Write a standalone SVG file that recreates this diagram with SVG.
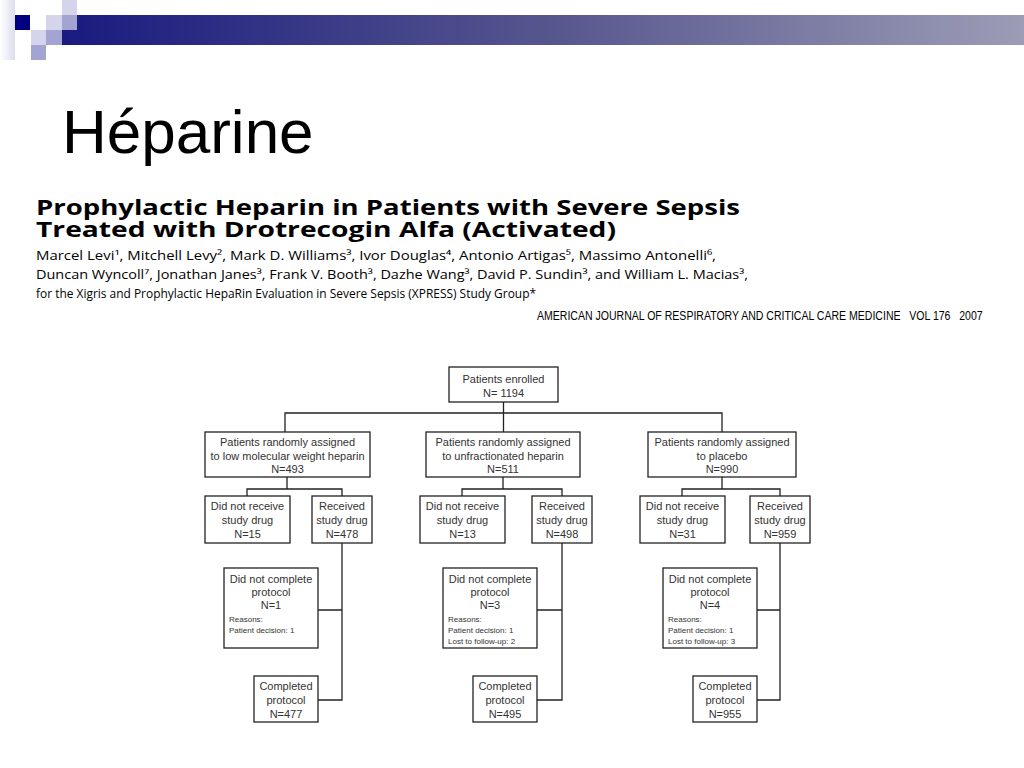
<svg xmlns="http://www.w3.org/2000/svg" width="1024" height="768" viewBox="0 0 1024 768">
<defs>
<linearGradient id="bar" x1="0" y1="0" x2="1" y2="0">
<stop offset="0" stop-color="#1a1a80"/>
<stop offset="0.5" stop-color="#55558e"/>
<stop offset="1" stop-color="#9c9cb6"/>
</linearGradient>
<linearGradient id="strip" x1="0" y1="0" x2="1" y2="0">
<stop offset="0" stop-color="#ffffff"/>
<stop offset="1" stop-color="#dcdcee"/>
</linearGradient>
<style>
.box{fill:#fff;stroke:#222;stroke-width:1.3}
.con{fill:none;stroke:#222;stroke-width:1.3}
.t{font-family:"Liberation Sans",Arial,sans-serif;font-size:11px;fill:#333;text-anchor:middle}
.s{font-family:"Liberation Sans",Arial,sans-serif;font-size:8px;fill:#333}
.pt{font-family:"Open Sans","DejaVu Sans",sans-serif;font-weight:700;font-size:21px;fill:#000}
.au{font-family:"Open Sans","DejaVu Sans",sans-serif;font-size:12px;fill:#000}
</style>
</defs>
<rect width="1024" height="768" fill="#fff"/>
<g id="header">
<rect x="0" y="0" width="15" height="60" fill="url(#strip)"/>
<rect x="62" y="15" width="962" height="30" fill="url(#bar)"/>
<rect x="15" y="15" width="15" height="15" fill="#000080"/>
<rect x="62" y="0" width="15" height="15" fill="#d4d4ea"/>
<rect x="46" y="15" width="16" height="15" fill="#d4d4ea"/>
<rect x="62" y="15" width="15" height="15" fill="#a4a4d2"/>
<rect x="31" y="30" width="15" height="15" fill="#d4d4ea"/>
<rect x="46" y="30" width="16" height="15" fill="#a4a4d2"/>
<rect x="31" y="45" width="15" height="15" fill="#a4a4d2"/>
</g>
<text x="62" y="153" font-family="Liberation Sans,Arial,sans-serif" font-size="62" fill="#000">Héparine</text>
<g id="paper">
<text class="pt" x="36" y="215" textLength="704" lengthAdjust="spacingAndGlyphs">Prophylactic Heparin in Patients with Severe Sepsis</text>
<text class="pt" x="36" y="237" textLength="580" lengthAdjust="spacingAndGlyphs">Treated with Drotrecogin Alfa (Activated)</text>
<text class="au" x="36" y="260" textLength="680" lengthAdjust="spacingAndGlyphs">Marcel Levi¹, Mitchell Levy², Mark D. Williams³, Ivor Douglas⁴, Antonio Artigas⁵, Massimo Antonelli⁶,</text>
<text class="au" x="36" y="279" textLength="712" lengthAdjust="spacingAndGlyphs">Duncan Wyncoll⁷, Jonathan Janes³, Frank V. Booth³, Dazhe Wang³, David P. Sundin³, and William L. Macias³,</text>
<text class="au" x="36" y="298" textLength="500" lengthAdjust="spacingAndGlyphs">for the Xigris and Prophylactic HepaRin Evaluation in Severe Sepsis (XPRESS) Study Group*</text>
<text transform="translate(537,320) scale(0.72,1)" x="0" y="0" font-family="Liberation Sans,Arial,sans-serif" font-size="13.5" fill="#000" textLength="619" lengthAdjust="spacingAndGlyphs">AMERICAN JOURNAL OF RESPIRATORY AND CRITICAL CARE MEDICINE&#160;&#160;&#160;VOL 176&#160;&#160;&#160;2007</text>
</g>
<g id="connectors">
<path class="con" d="M503.5 402V432M285 432V413H722V432"/>
<path class="con" d="M287 477V489M247 496V489H342V496"/>
<path class="con" d="M503 477V489M462 496V489H562V496"/>
<path class="con" d="M722 477V489M682 496V489H780V496"/>
<path class="con" d="M342 543V700H318M342 610H318"/>
<path class="con" d="M562 543V700H537M562 610H537"/>
<path class="con" d="M780 543V700H757M780 610H757"/>
</g>
<g id="enrolled"><rect class="box" x="449" y="367" width="109" height="35"/><text class="t" x="503.5" y="383">Patients enrolled</text><text class="t" x="503.5" y="397">N= 1194</text></g>
<g id="lmwh"><rect class="box" x="205" y="432" width="165" height="45"/><text class="t" x="287.5" y="446">Patients randomly assigned</text><text class="t" x="287.5" y="460">to low molecular weight heparin</text><text class="t" x="287.5" y="473">N=493</text></g>
<g id="ufh"><rect class="box" x="426" y="432" width="154" height="45"/><text class="t" x="503" y="446">Patients randomly assigned</text><text class="t" x="503" y="460">to unfractionated heparin</text><text class="t" x="503" y="473">N=511</text></g>
<g id="placebo"><rect class="box" x="648" y="432" width="148" height="45"/><text class="t" x="722" y="446">Patients randomly assigned</text><text class="t" x="722" y="460">to placebo</text><text class="t" x="722" y="473">N=990</text></g>
<g id="lmwh-dnr"><rect class="box" x="205" y="496" width="85" height="47"/><text class="t" x="247.5" y="510">Did not receive</text><text class="t" x="247.5" y="524">study drug</text><text class="t" x="247.5" y="538">N=15</text></g>
<g id="lmwh-rec"><rect class="box" x="312" y="496" width="60" height="47"/><text class="t" x="342" y="510">Received</text><text class="t" x="342" y="524">study drug</text><text class="t" x="342" y="538">N=478</text></g>
<g id="ufh-dnr"><rect class="box" x="420" y="496" width="85" height="47"/><text class="t" x="462.5" y="510">Did not receive</text><text class="t" x="462.5" y="524">study drug</text><text class="t" x="462.5" y="538">N=13</text></g>
<g id="ufh-rec"><rect class="box" x="532" y="496" width="60" height="47"/><text class="t" x="562" y="510">Received</text><text class="t" x="562" y="524">study drug</text><text class="t" x="562" y="538">N=498</text></g>
<g id="pl-dnr"><rect class="box" x="640" y="496" width="85" height="47"/><text class="t" x="682.5" y="510">Did not receive</text><text class="t" x="682.5" y="524">study drug</text><text class="t" x="682.5" y="538">N=31</text></g>
<g id="pl-rec"><rect class="box" x="750" y="496" width="60" height="47"/><text class="t" x="780" y="510">Received</text><text class="t" x="780" y="524">study drug</text><text class="t" x="780" y="538">N=959</text></g>
<g id="lmwh-dnc"><rect class="box" x="224" y="568" width="94" height="80"/><text class="t" x="271" y="583">Did not complete</text><text class="t" x="271" y="596">protocol</text><text class="t" x="271" y="609">N=1</text><text class="s" x="229" y="622">Reasons:</text><text class="s" x="229" y="633">Patient decision: 1</text></g>
<g id="lmwh-comp"><rect class="box" x="254" y="676" width="64" height="46"/><text class="t" x="286" y="690">Completed</text><text class="t" x="286" y="704">protocol</text><text class="t" x="286" y="718">N=477</text></g>
<g id="ufh-dnc"><rect class="box" x="443" y="568" width="94" height="80"/><text class="t" x="490" y="583">Did not complete</text><text class="t" x="490" y="596">protocol</text><text class="t" x="490" y="609">N=3</text><text class="s" x="448" y="622">Reasons:</text><text class="s" x="448" y="633">Patient decision: 1</text><text class="s" x="448" y="644">Lost to follow-up: 2</text></g>
<g id="ufh-comp"><rect class="box" x="473" y="676" width="64" height="46"/><text class="t" x="505" y="690">Completed</text><text class="t" x="505" y="704">protocol</text><text class="t" x="505" y="718">N=495</text></g>
<g id="pl-dnc"><rect class="box" x="663" y="568" width="94" height="80"/><text class="t" x="710" y="583">Did not complete</text><text class="t" x="710" y="596">protocol</text><text class="t" x="710" y="609">N=4</text><text class="s" x="668" y="622">Reasons:</text><text class="s" x="668" y="633">Patient decision: 1</text><text class="s" x="668" y="644">Lost to follow-up: 3</text></g>
<g id="pl-comp"><rect class="box" x="693" y="676" width="64" height="46"/><text class="t" x="725" y="690">Completed</text><text class="t" x="725" y="704">protocol</text><text class="t" x="725" y="718">N=955</text></g>
</svg>
